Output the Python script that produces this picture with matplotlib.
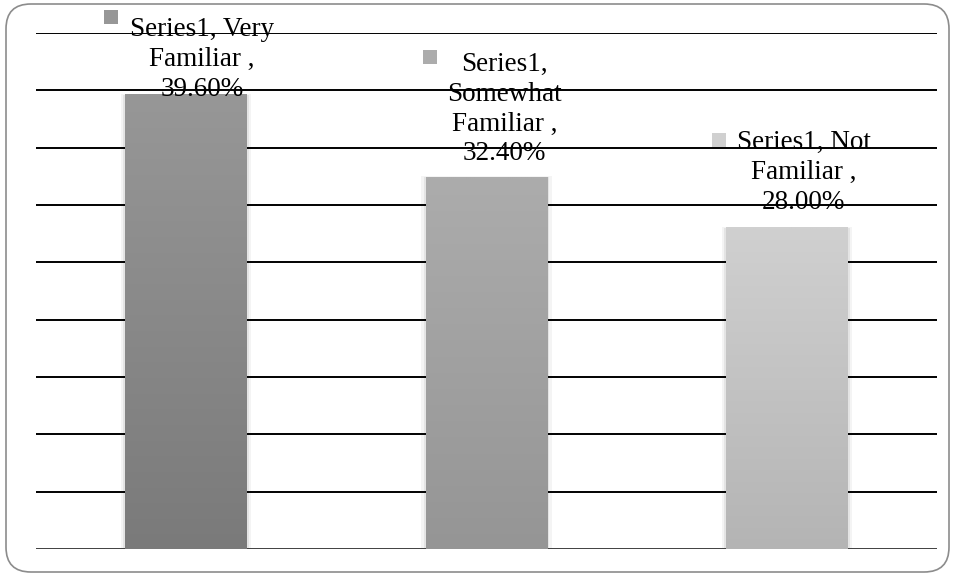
import numpy as np
import matplotlib.pyplot as plt
from matplotlib.patches import FancyBboxPatch
from matplotlib.transforms import ScaledTranslation

# data
categories = ["Very Familiar", "Somewhat Familiar", "Not Familiar"]
values = [0.396, 0.324, 0.280]
labels = ["Series1, Very\nFamiliar ,\n39.60%",
          "Series1,\nSomewhat\nFamiliar ,\n32.40%",
          "Series1, Not\nFamiliar ,\n28.00%"]
top_colors = ["#979797", "#acacac", "#d0d0d0"]
bottom_colors = ["#7a7a7a", "#959595", "#b4b4b4"]

plt.rcParams['font.family'] = ['Liberation Serif', 'DejaVu Serif']

fig = plt.figure(figsize=(9.55, 5.76), dpi=100)
ax = fig.add_axes([36 / 955, 1 - 549 / 576, 901 / 955, (549 - 33) / 576])

# rounded frame around the chart
frame = FancyBboxPatch((6 / 955, 4 / 576), 943 / 955, 568 / 576,
                       boxstyle="round,pad=0,rounding_size=0.026",
                       transform=fig.transFigure, fill=False,
                       edgecolor="#8c8c8c", linewidth=1.2,
                       mutation_aspect=955 / 576)
fig.patches.append(frame)

# gridlines
for y in np.arange(0, 0.451, 0.05):
    ax.axhline(y, color="black" if y > 0 else "#404040", linewidth=1.4, zorder=1)

width = 0.405
for i, v in enumerate(values):
    # soft glow behind bar
    ax.bar(i, v + 0.005, width=width + 0.03, bottom=-0.004, color="#f4f4f4",
           zorder=0.5)
    ax.bar(i, v + 0.003, width=width + 0.014, bottom=-0.003, color="#e4e4e4",
           zorder=0.6)
    c1 = np.array([int(top_colors[i][k:k + 2], 16) for k in (1, 3, 5)]) / 255
    c2 = np.array([int(bottom_colors[i][k:k + 2], 16) for k in (1, 3, 5)]) / 255
    t = np.linspace(0, 1, 100)[:, None]
    grad = (c1 * (1 - t) + c2 * t)[:, None, :]
    ax.imshow(grad, extent=(i - width / 2, i + width / 2, -0.003, v),
              aspect="auto", zorder=3, interpolation="bilinear")

ax.set_xlim(-0.5, 2.5)
ax.set_ylim(0, 0.45)

# data labels (offsets in pixels from the bar top)
text_dx = [16, 18, 17]
text_dy = [-1, 17, 19]
key_dx = [-75, -57, -68]
key_dy = [78, 120, 88]
for i, v in enumerate(values):
    off = ScaledTranslation(text_dx[i] / 100, text_dy[i] / 100, fig.dpi_scale_trans)
    ax.text(i, v, labels[i], transform=ax.transData + off,
            ha="center", va="baseline", fontsize=19.5, linespacing=1.26,
            zorder=5)
    koff = ScaledTranslation(key_dx[i] / 100, key_dy[i] / 100, fig.dpi_scale_trans)
    ax.plot([i], [v], marker="s", markersize=9.5, color=top_colors[i],
            markeredgewidth=0, zorder=5, clip_on=False,
            transform=ax.transData + koff)

ax.set_xticks([])
ax.set_yticks([])
for s in ax.spines.values():
    s.set_visible(False)

fig.savefig("out.png", dpi=100)
